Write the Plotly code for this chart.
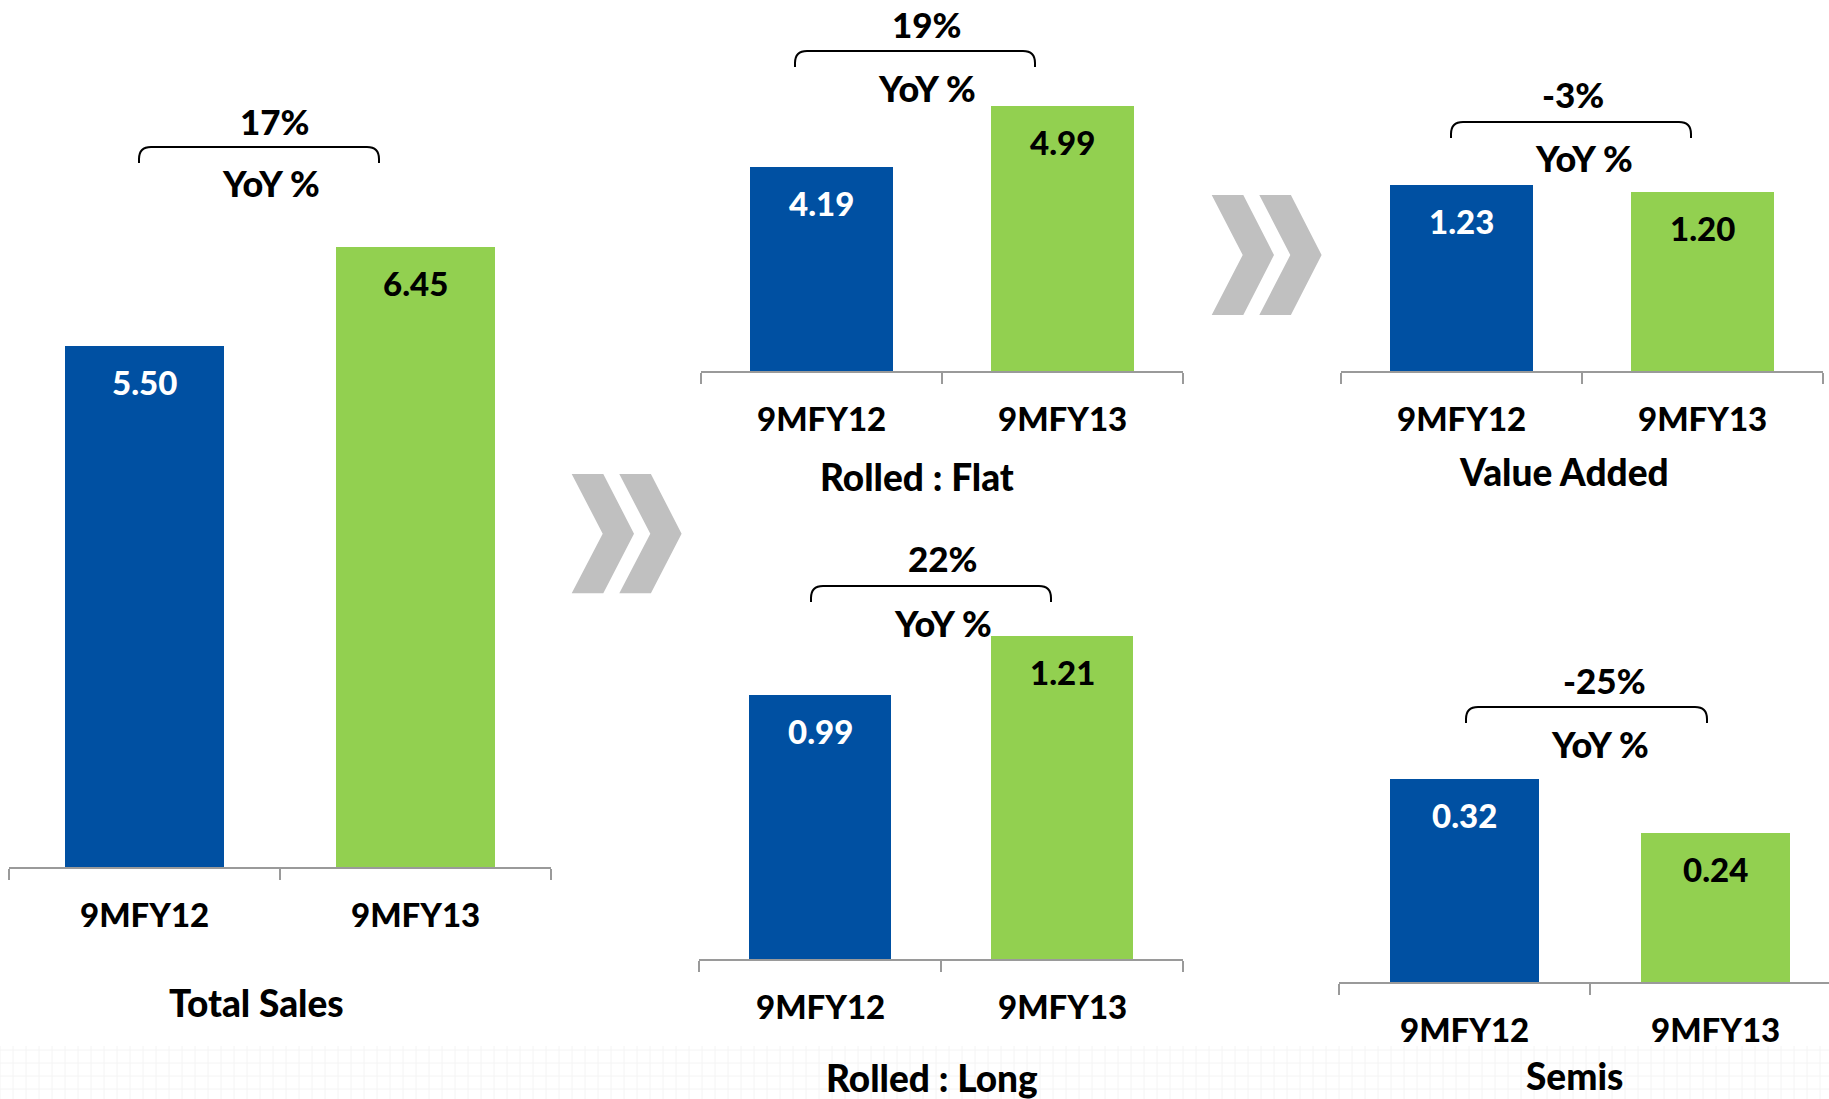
import plotly.graph_objects as go

W, H = 1829, 1099

# ---- data -------------------------------------------------------------
categories = ["9MFY12", "9MFY13"]
panel_titles = ["Total Sales", "Rolled : Flat", "Rolled : Long", "Value Added", "Semis"]
total_sales = [5.50, 6.45]
rolled_flat = [4.19, 4.99]
rolled_long = [0.99, 1.21]
value_added = [1.23, 1.20]
semis = [0.32, 0.24]
yoy_labels = ["17%", "19%", "22%", "-3%", "-25%"]

series = [total_sales, rolled_flat, rolled_long, value_added, semis]

# ---- style ------------------------------------------------------------
BLUE = "#0050A2"
GREEN = "#92D050"
AXIS_GREY = "#9a9a9a"
CHEVRON_GREY = "#c0c0c0"
FONT = "Lato, 'Open Sans', sans-serif"
WEIGHT = 900
BAR_WIDTH = 0.59

# pixel frame of each small chart: tick span, baseline, axis minimum,
# pixels per unit, plot top, and where its captions / bracket sit
frames = [
    dict(x_left=9, x_right=551, axis_y=867, base=0.50, k=104.2, top=200,
         title=(256, 1002), yoy_num=(275, 121), yoy_txt=(271, 183),
         bracket=(139, 379, 147)),
    dict(x_left=701, x_right=1183, axis_y=371, base=1.52, k=76.25, top=60,
         title=(917, 477), yoy_num=(927, 24), yoy_txt=(927, 88),
         bracket=(795, 1035, 51)),
    dict(x_left=699, x_right=1183, axis_y=959, base=0.0, k=266.7, top=560,
         title=(932, 1077), yoy_num=(943, 558), yoy_txt=(943, 623),
         bracket=(811, 1051, 586)),
    dict(x_left=1341, x_right=1823, axis_y=371, base=0.43, k=233.0, top=120,
         title=(1564, 471), yoy_num=(1573, 94), yoy_txt=(1584, 158),
         bracket=(1451, 1691, 122)),
    dict(x_left=1339, x_right=1841, axis_y=982, base=0.019, k=675.0, top=700,
         title=(1574, 1075), yoy_num=(1604, 680), yoy_txt=(1600, 744),
         bracket=(1466, 1707, 707)),
]


def px(x):
    return x / W


def py(y):
    return 1 - y / H


fig = go.Figure()
annotations = []
shapes = []

for i, (vals, fr) in enumerate(zip(series, frames)):
    n = i + 1
    xa = "x" if n == 1 else f"x{n}"
    ya = "y" if n == 1 else f"y{n}"
    xkey = "xaxis" if n == 1 else f"xaxis{n}"
    ykey = "yaxis" if n == 1 else f"yaxis{n}"

    fig.add_trace(go.Bar(
        x=[0, 1], y=vals, width=BAR_WIDTH,
        marker=dict(color=[BLUE, GREEN], line=dict(width=0)),
        xaxis=xa, yaxis=ya, showlegend=False, hoverinfo="skip",
    ))

    cat_w = (fr["x_right"] - fr["x_left"]) / 2
    dom_right = min(fr["x_right"], W)
    x_hi = -0.5 + (dom_right - fr["x_left"]) / cat_w

    fig.layout[xkey] = dict(
        domain=[px(fr["x_left"]), px(dom_right)], range=[-0.5, x_hi],
        anchor=ya, showline=True, linecolor=AXIS_GREY, linewidth=2,
        ticks="outside", tickvals=[-0.5, 0.5, 1.5], ticklen=11,
        tickwidth=2, tickcolor=AXIS_GREY, showticklabels=False,
        showgrid=False, zeroline=False, fixedrange=True,
    )
    fig.layout[ykey] = dict(
        domain=[py(fr["axis_y"]), py(fr["top"])],
        range=[fr["base"], fr["base"] + (fr["axis_y"] - fr["top"]) / fr["k"]],
        anchor=xa, visible=False, fixedrange=True,
    )

    # value labels inside the bars, category labels under the axis
    for j, v in enumerate(vals):
        annotations.append(dict(
            xref=xa, yref=ya, x=j, y=v, yshift=-36, yanchor="middle",
            text=f"{v:.2f}", showarrow=False,
            font=dict(family=FONT, size=33, weight=WEIGHT,
                      color="white" if j == 0 else "black"),
        ))
        annotations.append(dict(
            xref=xa, yref="paper", x=j, y=py(fr["axis_y"] + 47),
            yanchor="middle", text=categories[j], showarrow=False,
            font=dict(family=FONT, size=33, weight=WEIGHT, color="black"),
        ))

    # chart caption
    annotations.append(dict(
        xref="paper", yref="paper", x=px(fr["title"][0]), y=py(fr["title"][1]),
        xanchor="center", yanchor="middle", text=panel_titles[i],
        showarrow=False, font=dict(family=FONT, size=37, weight=WEIGHT, color="black"),
    ))

    # YoY bracket and labels
    annotations.append(dict(
        xref="paper", yref="paper", x=px(fr["yoy_num"][0]), y=py(fr["yoy_num"][1]),
        xanchor="center", yanchor="middle", text=yoy_labels[i],
        showarrow=False, font=dict(family=FONT, size=35, weight=WEIGHT, color="black"),
    ))
    annotations.append(dict(
        xref="paper", yref="paper", x=px(fr["yoy_txt"][0]), y=py(fr["yoy_txt"][1]),
        xanchor="center", yanchor="middle", text="YoY %",
        showarrow=False, font=dict(family=FONT, size=36, weight=WEIGHT, color="black"),
    ))
    bx0, bx1, by = fr["bracket"]
    r, drop = 12, 16
    path = (
        f"M {px(bx0)},{py(by + drop)} L {px(bx0)},{py(by + r)} "
        f"Q {px(bx0)},{py(by)} {px(bx0 + r)},{py(by)} "
        f"L {px(bx1 - r)},{py(by)} "
        f"Q {px(bx1)},{py(by)} {px(bx1)},{py(by + r)} "
        f"L {px(bx1)},{py(by + drop)}"
    )
    shapes.append(dict(type="path", xref="paper", yref="paper", path=path,
                       line=dict(color="black", width=2)))


# double chevron arrows between the charts
def chevron(x0, y0, h):
    w_body, tip, off = 31.6, 62.3, 47.6
    out = []
    for s in (0, off):
        pts = [(x0 + s, y0), (x0 + s + w_body, y0), (x0 + s + tip, y0 + h / 2),
               (x0 + s + w_body, y0 + h), (x0 + s, y0 + h),
               (x0 + s + w_body - 0.6, y0 + h / 2)]
        p = "M " + " L ".join(f"{px(a)},{py(b)}" for a, b in pts) + " Z"
        out.append(dict(type="path", xref="paper", yref="paper", path=p,
                        fillcolor=CHEVRON_GREY, line=dict(width=0)))
    return out


shapes += chevron(571.7, 474, 119.3)
shapes += chevron(1211.7, 195, 120)

# faint grid texture along the bottom edge
grid = []
for gx in range(0, W + 1, 13):
    grid.append(f"M {px(gx)},{py(1046)} L {px(gx)},{py(H)}")
for gy in range(1050, H, 13):
    grid.append(f"M 0,{py(gy)} L 1,{py(gy)}")
shapes.append(dict(type="path", xref="paper", yref="paper", path=" ".join(grid),
                   line=dict(color="#f4f4f4", width=1), layer="below"))

fig.update_layout(
    width=W, height=H, margin=dict(l=0, r=0, t=0, b=0),
    paper_bgcolor="white", plot_bgcolor="rgba(0,0,0,0)",
    annotations=annotations, shapes=shapes, showlegend=False,
    bargap=0,
)

fig.write_html("out.html", config={"displayModeBar": False})
